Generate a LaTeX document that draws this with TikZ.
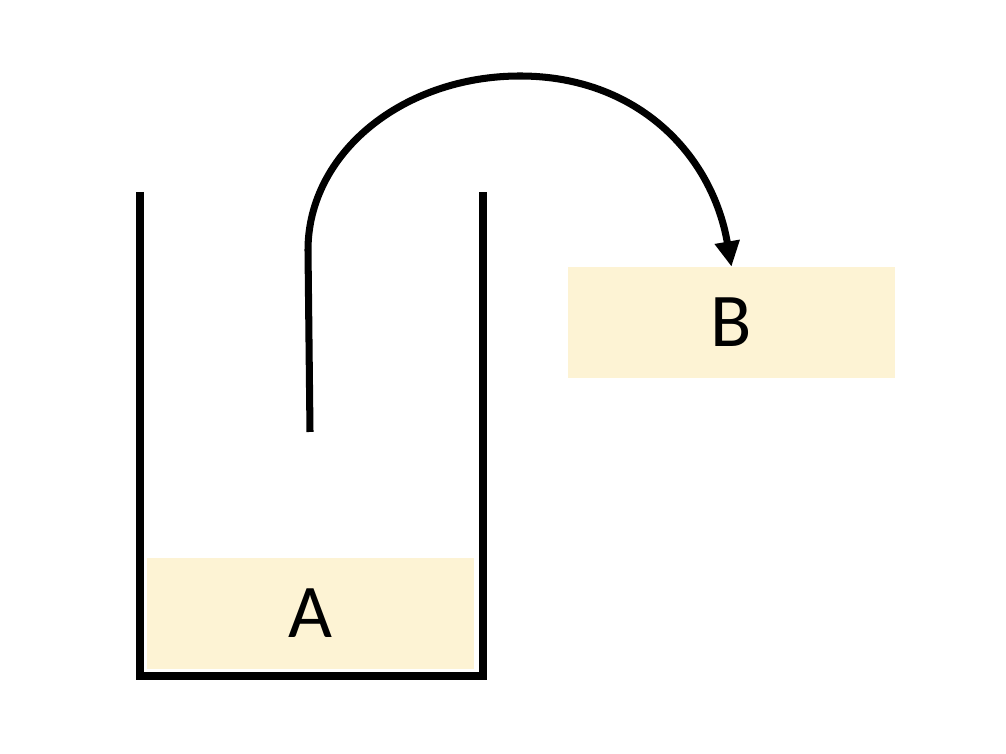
\documentclass[tikz,border=0pt]{standalone}
\usepackage{fontspec}
\setmainfont{Carlito}
\usetikzlibrary{arrows.meta}
\definecolor{LiquidCream}{HTML}{FDF3D4}

\begin{document}
\begin{tikzpicture}[
    x=0.025cm, y=0.025cm,
    liquid/.style={fill=LiquidCream, draw=none, minimum width=327*0.025cm, minimum height=111*0.025cm, font=\fontsize{54}{60}\selectfont},
    wall/.style={line width=5.7pt, line join=miter},
    siphon/.style={line width=5pt, -{Triangle[width=17pt,length=18pt]}}
  ]
    \useasboundingbox (0,0) rectangle (1006,754);

    % beaker
    \draw[wall] (140,562) -- (140,78) -- (483,78) -- (483,562);
    \node[liquid] (A) at (310.5,140.5) {A};
    \node[liquid] (B) at (731.5,431.5) {B};

    % tube
    \coordinate (tubeend) at (310,322);
    \draw[siphon] (tubeend) -- (308,504) .. controls (308,601) and (403,678) .. (520,678)
        .. controls (637,678) and (712,600) .. (B.north);
  \end{tikzpicture}
\end{document}
